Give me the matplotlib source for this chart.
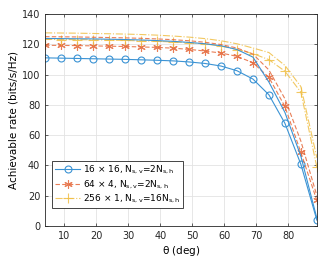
import matplotlib
matplotlib.use('Agg')
import matplotlib.pyplot as plt
import numpy as np

theta = [4, 9, 14, 19, 24, 29, 34, 39, 44, 49, 54, 59, 64, 69, 74, 79, 84, 89]

# markered curves
rate_16x16 = [111.0, 110.8, 110.6, 110.4, 110.2, 110.0, 109.7, 109.4, 109.0, 108.3, 107.3, 105.6, 102.5, 97.0, 86.6, 67.8, 40.7, 3.8]
rate_64x4 = [119.3, 119.2, 119.1, 118.9, 118.7, 118.5, 118.2, 117.9, 117.4, 116.6, 115.5, 114.2, 112.0, 107.8, 98.1, 78.9, 48.5, 16.8]
rate_256x1 = [123.2, 123.1, 123.0, 122.9, 122.7, 122.5, 122.2, 121.9, 121.5, 121.0, 120.2, 118.8, 116.5, 113.8, 109.8, 102.2, 88.3, 38.8]

# upper curves (no markers)
ub_16x16 = [123.8, 123.7, 123.6, 123.5, 123.3, 123.1, 122.8, 122.4, 121.9, 121.2, 120.3, 119.0, 116.5, 111.5, 95.0, 75.0, 46.0, 5.0]
ub_64x4 = [125.0, 124.9, 124.8, 124.6, 124.4, 124.2, 123.9, 123.5, 123.0, 122.3, 121.3, 119.8, 117.5, 113.5, 103.0, 84.0, 56.0, 20.0]
ub_256x1 = [127.5, 127.4, 127.3, 127.1, 126.9, 126.7, 126.4, 126.0, 125.4, 124.7, 123.7, 122.3, 120.3, 117.5, 114.5, 106.0, 92.0, 45.0]

labels = [r'16 $\times$ 16, N$_{\rm s,v}$=2N$_{\rm s,h}$',
          r'64 $\times$ 4, N$_{\rm s,v}$=2N$_{\rm s,h}$',
          r'256 $\times$ 1, N$_{\rm s,v}$=16N$_{\rm s,h}$']

c_blue = '#3b93d4'
c_red = '#e5683a'
c_yel = '#f0bf45'

plt.rcParams['font.family'] = 'DejaVu Sans'
plt.rcParams['mathtext.default'] = 'regular'

fig = plt.figure(figsize=(3.27, 2.63), dpi=100)
ax = fig.add_axes([0.138, 0.141, 0.831, 0.806])

ax.plot(theta, rate_16x16, '-', color=c_blue, lw=0.8, marker='o', ms=5,
        mfc='none', mew=0.8, label=labels[0])
ax.plot(theta, rate_64x4, '--', color=c_red, lw=0.8, marker=(6, 2, 0), ms=6,
        mew=0.8, alpha=0.85, dashes=(4, 2), label=labels[1])
ax.plot(theta, rate_256x1, '-.', color=c_yel, lw=0.8, marker='+', ms=7,
        mew=0.8, alpha=0.85, label=labels[2])
ax.plot(theta, ub_16x16, '-', color=c_blue, lw=0.8)
ax.plot(theta, ub_64x4, '--', color=c_red, lw=0.8, alpha=0.85, dashes=(4, 2))
ax.plot(theta, ub_256x1, '-.', color=c_yel, lw=0.8, alpha=0.85)

ax.set_xlim(4, 89)
ax.set_ylim(0, 140)
ax.set_xticks(np.arange(10, 81, 10))
ax.set_yticks(np.arange(0, 141, 20))
ax.grid(True, color='#e3e3e3', lw=0.6)
ax.set_axisbelow(True)
ax.tick_params(direction='in', length=2.5, width=0.5, labelsize=7, colors='#262626',
               top=True, right=True)
for s in ax.spines.values():
    s.set_linewidth(0.6)
    s.set_color('#262626')

ax.set_xlabel(r'$\theta$ (deg)', fontsize=7.5, labelpad=2)
ax.set_ylabel('Achievable rate (bits/s/Hz)', fontsize=7.5, labelpad=2)

leg = ax.legend(loc='lower left', bbox_to_anchor=(0.026, 0.085), fontsize=6.5,
                handlelength=2.8, fancybox=False, framealpha=1, edgecolor='#262626',
                borderpad=0.3, labelspacing=0.25, handletextpad=0.3, borderaxespad=0)
leg.get_frame().set_linewidth(0.6)

fig.savefig('out.png', dpi=100)
